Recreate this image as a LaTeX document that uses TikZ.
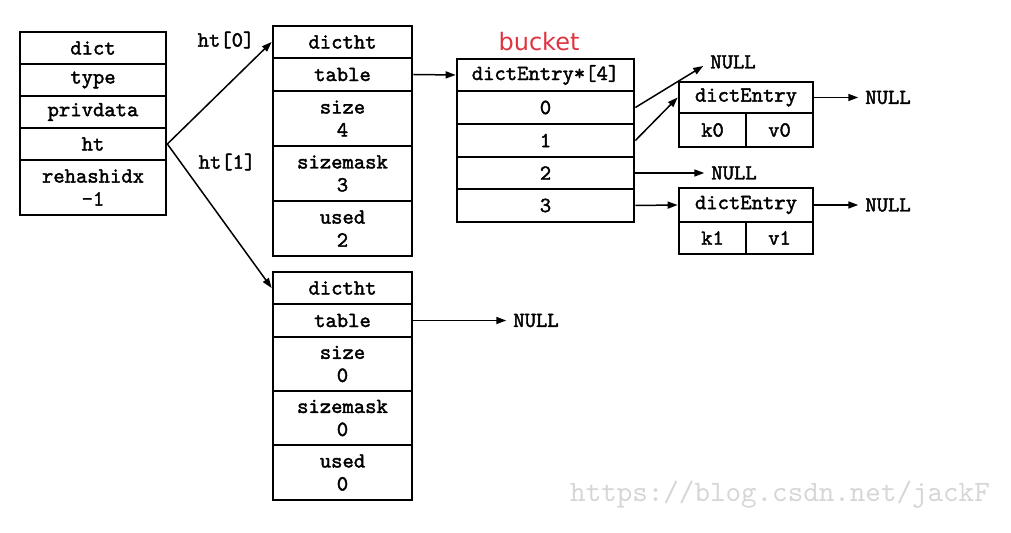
\documentclass[tikz,border=0pt]{standalone}
\usepackage{fontspec}
\newfontfamily\bucketfont{DejaVu Sans}
\newfontfamily\codefont[FakeBold=1.8]{lmmono10-regular.otf}
\newfontfamily\markfont{lmmono10-regular.otf}
\usetikzlibrary{arrows.meta}
\tikzset{
  cell/.style={shape=rectangle,draw=black,line width=1.35pt,inner sep=0pt,align=center,
    font=\codefont\fontsize{10.8}{11.5}\selectfont},
  dictcol/.style={cell,minimum width=73pt},
  htcol/.style={cell,minimum width=69.5pt},
  bucol/.style={cell,minimum width=88.5pt},
  entcol/.style={cell,minimum width=67pt},
  one/.style={minimum height=16pt},
  two/.style={minimum height=27.5pt},
  lab/.style={font=\codefont\fontsize{10.8}{11.5}\selectfont},
  arr/.style={line width=0.75pt,-{Triangle[length=5pt,width=3.5pt]}},
}
\definecolor{bucketred}{RGB}{222,52,64}
\begin{document}
\begin{tikzpicture}[x=0.5pt,y=-0.5pt]
	\useasboundingbox (0,0) rectangle (1011,533);
	% dict
	\node[dictcol,one] (dict) at (93,48) {dict};
	\node[dictcol,one] (type) at (93,80) {type};
	\node[dictcol,one] (priv) at (93,112) {privdata};
	\node[dictcol,one] (ht) at (93,144) {ht};
	\node[dictcol,two] (rehash) at (93,187.5) {rehashidx\\-1};
	\node[lab] (lht0) at (226,40) {ht[0]};
	\node[lab] (lht1) at (227,162) {ht[1]};
	% ht[0]
	\node[htcol,one] (htA) at (342.5,42) {dictht};
	\node[htcol,minimum height=16.5pt] (tabA) at (342.5,74.5) {table};
	\node[htcol,two] (sizeA) at (342.5,118.5) {size\\4};
	\node[htcol,two] (maskA) at (342.5,173.5) {sizemask\\3};
	\node[htcol,two] (usedA) at (342.5,228.5) {used\\2};
	% ht[1]
	\node[htcol,one] (htB) at (342.5,288) {dictht};
	\node[htcol,minimum height=16.5pt] (tabB) at (342.5,320.5) {table};
	\node[htcol,minimum height=27pt] (sizeB) at (342.5,364) {size\\0};
	\node[htcol,minimum height=27pt] (maskB) at (342.5,418) {sizemask\\0};
	\node[htcol,two] (usedB) at (342.5,472.5) {used\\0};
	\node[lab] (nullE) at (536,320.5) {NULL};
	% bucket
	\node[font=\bucketfont\fontsize{12}{14}\selectfont,text=bucketred] (lbucket) at (539,42) {bucket};
	\node[bucol,one] (bhead) at (545.5,75) {dictEntry*[4]};
	\node[bucol,minimum height=16.5pt] (b0) at (545.5,107.5) {0};
	\node[bucol,minimum height=16.5pt] (b1) at (545.5,140.5) {1};
	\node[bucol,one] (b2) at (545.5,173) {2};
	\node[bucol,minimum height=16.5pt] (b3) at (545.5,205.5) {3};
	% entries
	\node[entcol,minimum height=15.5pt] (entA) at (746,97.5) {dictEntry};
	\node[entcol,minimum width=33.5pt,minimum height=17pt] (kA) at (712.5,130) {k0};
	\node[entcol,minimum width=33.5pt,minimum height=17pt] (vA) at (779.5,130) {v0};
	\node[entcol,minimum height=17pt] (entB) at (746,205) {dictEntry};
	\node[entcol,minimum width=33.5pt,one] (kB) at (712.5,238) {k1};
	\node[entcol,minimum width=33.5pt,one] (vB) at (779.5,238) {v1};
	\node[lab] (nullA) at (733,62) {NULL};
	\node[lab] (nullB) at (734,173) {NULL};
	\node[lab] (nullC) at (888,97.5) {NULL};
	\node[lab] (nullD) at (888,205) {NULL};
	% arrows
	\path [arr] (ht.east) edge (htA.west);
	\path [arr] (ht.east) edge (htB.west);
	\path [arr] (tabA.east) edge (bhead.west);
	\path [arr] (tabB.east) edge (nullE.west);
	\path [arr] (b0.east) edge ([yshift=-2pt]nullA.west);
	\path [arr] (b1.east) edge (entA.west);
	\path [arr] (b2.east) edge (nullB.west);
	\path [arr] (b3.east) edge (entB.west);
	\path [arr] (entA.east) edge (nullC.west);
	\path [arr] (entB.east) edge (nullD.west);
	% watermark
	\node[font=\markfont\fontsize{14.8}{15}\selectfont,text=black!16] (mark) at (780,495) {https://blog.csdn.net/jackF};
\end{tikzpicture}
\end{document}
